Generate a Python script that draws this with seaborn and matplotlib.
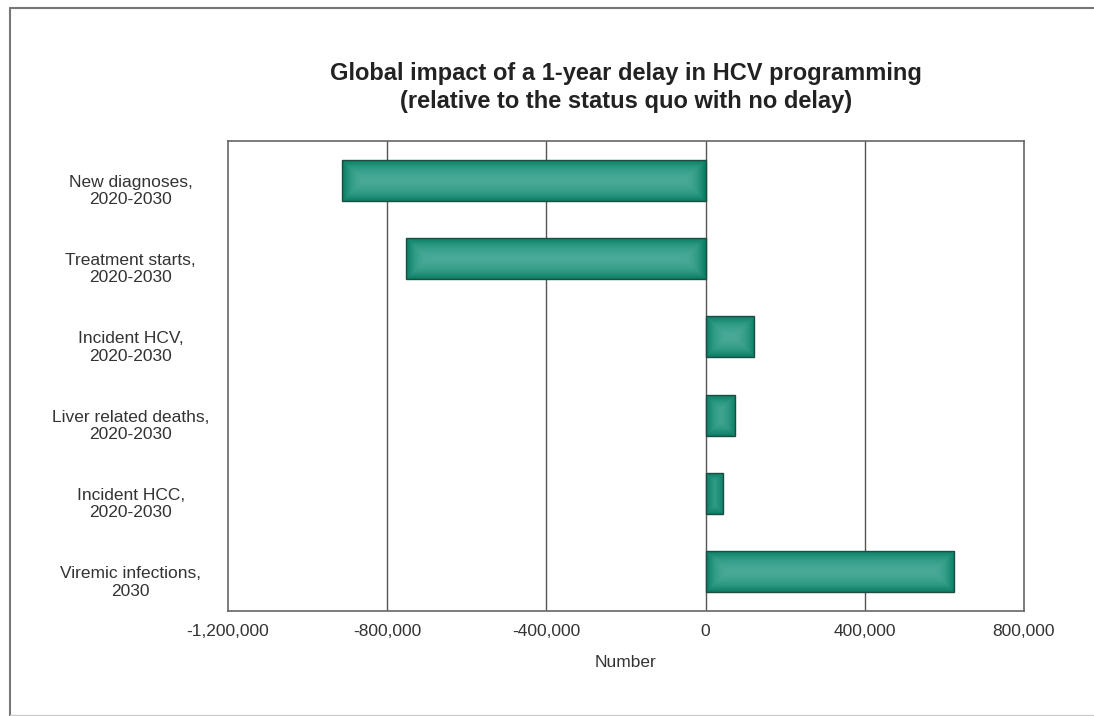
import numpy as np
import pandas as pd
import matplotlib
matplotlib.use("Agg")
import matplotlib.pyplot as plt
import matplotlib.transforms as mtransforms
from matplotlib.colors import LinearSegmentedColormap
from matplotlib.lines import Line2D
import seaborn as sns

categories = [
    "New diagnoses,\n2020-2030",
    "Treatment starts,\n2020-2030",
    "Incident HCV,\n2020-2030",
    "Liver related deaths,\n2020-2030",
    "Incident HCC,\n2020-2030",
    "Viremic infections,\n2030",
]
values = [-913000, -752000, 121000, 73000, 43000, 624000]
xticks = [-1200000, -800000, -400000, 0, 400000, 800000]

df = pd.DataFrame({"category": categories, "value": values})

sns.set_theme(style="white")
plt.rcParams["font.family"] = ["Liberation Sans", "DejaVu Sans"]

fig = plt.figure(figsize=(10.94, 7.16), dpi=100)
ax = fig.add_axes([228 / 1094, 1 - 611 / 716, (1024 - 228) / 1094, (611 - 141) / 716])

sns.barplot(data=df, x="value", y="category", orient="h", color="#1f9478",
            width=0.52, edgecolor="#1d4d42", linewidth=1.0, ax=ax, zorder=3)

# rectangular shading: light centre, darker towards the edges
cmap = LinearSegmentedColormap.from_list("teal", ["#4aa998", "#2e9a84", "#0a7d63"])
n = 200
u = np.linspace(-1, 1, n)
U, V = np.meshgrid(u, u)
for patch in ax.patches:
    x0, y0 = patch.get_x(), patch.get_y()
    w, h = patch.get_width(), patch.get_height()
    wpx = abs(w) / 2000000 * 796
    hpx = 41.0
    du = np.clip((1 - np.abs(U)) * wpx / 2, 0, None)
    dv = np.clip((1 - np.abs(V)) * hpx / 2, 0, None)
    d = np.minimum(du, dv) / (hpx / 2)
    t = 1 - np.clip(d, 0, 1)
    img = ax.imshow(t ** 1.5, cmap=cmap, vmin=0, vmax=1, aspect="auto",
                    extent=[min(x0, x0 + w), max(x0, x0 + w), y0 + h, y0],
                    interpolation="bilinear", zorder=3)
    img.set_clip_path(patch)
    patch.set_facecolor("none")
    patch.set_zorder(4)

ax.set_xlim(-1200000, 800000)
ax.set_ylim(5.5, -0.5)
ax.set_xticks(xticks)
ax.set_xticklabels([f"{v:,.0f}" for v in xticks], fontsize=12.5, color="#333333")
for v in xticks[1:-1]:
    ax.axvline(v, color="#555555", linewidth=1.0, zorder=2)

ax.set_yticks(range(len(categories)))
ax.set_yticklabels(categories, fontsize=12.5, color="#333333", ha="center",
                   multialignment="center")
ax.tick_params(axis="y", length=0, pad=70)
ax.tick_params(axis="x", length=0, pad=9)
shift = mtransforms.ScaledTranslation(0, -8 / 100, fig.dpi_scale_trans)
for lbl in ax.get_yticklabels():
    lbl.set_transform(lbl.get_transform() + shift)
ax.set_ylabel("")
ax.set_xlabel("Number", fontsize=12.5, color="#333333", labelpad=12)

for s in ax.spines.values():
    s.set_color("#666666")
    s.set_linewidth(1.2)
    s.set_visible(True)

ax.set_title("Global impact of a 1-year delay in HCV programming\n"
             "(relative to the status quo with no delay)",
             fontsize=17, fontweight="bold", color="#222222", pad=24,
             linespacing=1.25)

# outer frame
fig.add_artist(Line2D([10 / 1094, 10 / 1094], [0, 1 - 8 / 716],
                      transform=fig.transFigure, color="#777777", linewidth=1.5))
fig.add_artist(Line2D([10 / 1094, 1], [1 - 8 / 716, 1 - 8 / 716],
                      transform=fig.transFigure, color="#777777", linewidth=1.5))
fig.add_artist(Line2D([10 / 1094, 1], [1 / 716, 1 / 716],
                      transform=fig.transFigure, color="#cccccc", linewidth=1.0))

fig.savefig("out.png", dpi=100, facecolor="white")
